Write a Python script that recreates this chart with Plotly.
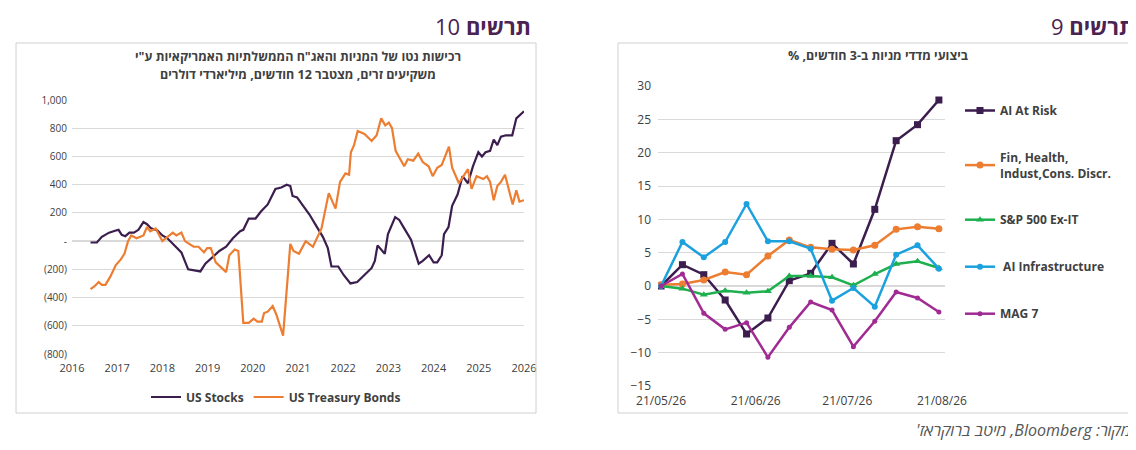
import pandas as pd
from plotly import graph_objs
 
W, H = 1136, 450

def px(x):
    return x / W

def py(y):
    return 1 - y / H

def rtl(s):
    # keep Hebrew lines in right-to-left order inside the svg text
    return "\u202b" + s + "\u202c"

# chart 10: net purchases by foreign investors, 12m rolling, $bn
stocks = [
    (2016.41, -10), (2016.55, -10), (2016.66, 30), (2016.82, 60), (2016.97, 75), (2017.03, 80),
    (2017.10, 45), (2017.18, 35), (2017.27, 60), (2017.37, 60), (2017.47, 80), (2017.58, 135),
    (2017.66, 120), (2017.75, 90), (2017.89, 75), (2018.00, 40), (2018.11, 20), (2018.27, -30),
    (2018.42, -80), (2018.57, -200), (2018.73, -210), (2018.84, -215), (2018.95, -160),
    (2019.11, -110), (2019.26, -70), (2019.41, -40), (2019.56, 20), (2019.72, 70), (2019.79, 80),
    (2019.91, 160), (2020.06, 160), (2020.18, 210), (2020.33, 260), (2020.50, 370), (2020.63, 380),
    (2020.75, 400), (2020.83, 390), (2020.88, 320), (2020.98, 310), (2021.09, 260), (2021.25, 190),
    (2021.40, 110), (2021.55, 30), (2021.66, -50), (2021.74, -180), (2021.89, -180), (2022.01, -240),
    (2022.16, -300), (2022.31, -290), (2022.47, -240), (2022.63, -190), (2022.70, -140),
    (2022.76, -30), (2022.92, -90), (2022.99, 50), (2023.15, 170), (2023.24, 150), (2023.35, 90),
    (2023.50, 10), (2023.67, -160), (2023.76, -140), (2023.90, -100), (2024.00, -150),
    (2024.08, -150), (2024.18, -100), (2024.23, 50), (2024.33, 100), (2024.41, 250), (2024.53, 330),
    (2024.64, 460), (2024.76, 410), (2024.87, 530), (2024.99, 630), (2025.07, 600), (2025.15, 630),
    (2025.25, 640), (2025.33, 720), (2025.41, 680), (2025.49, 740), (2025.60, 750), (2025.74, 750),
    (2025.83, 870), (2026.00, 920),
]
bonds = [
    (2016.41, -340), (2016.50, -320), (2016.59, -290), (2016.66, -310), (2016.74, -310),
    (2016.85, -250), (2016.97, -170), (2017.08, -130), (2017.16, -90), (2017.24, 0), (2017.31, 40),
    (2017.43, 20), (2017.58, 40), (2017.66, 100), (2017.73, 70), (2017.85, 90), (2018.00, 0),
    (2018.11, 30), (2018.23, 60), (2018.31, 40), (2018.42, 60), (2018.50, 0), (2018.69, -40),
    (2018.80, -40), (2018.92, -80), (2018.99, -50), (2019.07, -50), (2019.18, -150),
    (2019.30, -190), (2019.41, -220), (2019.48, -100), (2019.60, -60), (2019.68, -70),
    (2019.79, -580), (2019.91, -580), (2020.02, -550), (2020.10, -570), (2020.20, -570),
    (2020.25, -510), (2020.33, -500), (2020.44, -460), (2020.52, -520), (2020.67, -670),
    (2020.83, -20), (2020.90, -70), (2021.02, -90), (2021.17, 0), (2021.33, -40), (2021.52, 90),
    (2021.68, 340), (2021.83, 230), (2021.93, 420), (2022.05, 480), (2022.13, 470), (2022.17, 630),
    (2022.24, 680), (2022.32, 780), (2022.47, 760), (2022.63, 710), (2022.74, 750), (2022.84, 870),
    (2022.93, 820), (2023.01, 840), (2023.08, 800), (2023.16, 640), (2023.24, 590), (2023.35, 530),
    (2023.43, 580), (2023.55, 570), (2023.66, 620), (2023.76, 560), (2023.89, 530), (2023.98, 460),
    (2024.08, 520), (2024.18, 540), (2024.34, 670), (2024.41, 520), (2024.56, 410), (2024.76, 510),
    (2024.84, 370), (2024.95, 460), (2025.10, 440), (2025.18, 460), (2025.25, 420), (2025.33, 290),
    (2025.41, 390), (2025.49, 420), (2025.58, 470), (2025.67, 360), (2025.75, 260), (2025.83, 360),
    (2025.90, 280), (2026.00, 290),
]

# chart 9: 3 month index performance, %
dates = pd.date_range("2026-05-21", periods=14, freq="7D")
perf = {
    "AI At Risk": ([0, 3.2, 1.7, -2.1, -7.2, -4.8, 0.8, 1.9, 6.4, 3.3, 11.5, 21.8, 24.2, 27.9],
                   "#3b1d4e", "square", 7),
    "Fin, Health,<br>Indust,Cons. Discr.": ([0.2, 0.3, 0.9, 2.1, 1.7, 4.5, 6.9, 5.8, 5.5, 5.4, 6.1, 8.5, 8.9, 8.6],
                   "#ed7d31", "circle", 7),
    "S&P 500 Ex-IT": ([0, -0.4, -1.3, -0.7, -1.0, -0.8, 1.5, 1.5, 1.3, 0.1, 1.8, 3.3, 3.7, 2.7],
                   "#1eb04f", "triangle-up", 7),
    " AI Infrastructure": ([0, 6.6, 4.3, 6.6, 12.3, 6.7, 6.7, 5.6, -2.2, -0.3, -3.1, 4.7, 6.1, 2.6],
                   "#1ba1de", "circle", 6),
    "MAG 7": ([0, 1.8, -4.1, -6.5, -5.5, -10.7, -6.2, -2.4, -3.6, -9.1, -5.3, -0.9, -1.8, -3.9],
                   "#a02b93", "circle", 5),
}

fig = graph_objs.Figure()

fig.add_trace(graph_objs.Scatter(x=[p[0] for p in stocks], y=[p[1] for p in stocks],
                                 name="US Stocks", mode="lines",
                                 line=dict(color="#3b1d4e", width=2.2), xaxis="x", yaxis="y"))
fig.add_trace(graph_objs.Scatter(x=[p[0] for p in bonds], y=[p[1] for p in bonds],
                                 name="US Treasury Bonds", mode="lines",
                                 line=dict(color="#ed7d31", width=2.2), xaxis="x", yaxis="y"))

for name, (vals, color, symbol, size) in perf.items():
    fig.add_trace(graph_objs.Scatter(x=dates, y=vals, name=name, mode="lines+markers",
                                     line=dict(color=color, width=2.5),
                                     marker=dict(symbol=symbol, size=size, color=color),
                                     xaxis="x2", yaxis="y2", legend="legend2", legendgroup=name))

grid = "#d9d9d9"
axis_font = dict(family="Open Sans", size=11, color="#404040")
left_ticks = [1000, 800, 600, 400, 200, 0, -200, -400, -600, -800]
left_text = ["1,000" if v == 1000 else "-" if v == 0 else f"({-v})" if v < 0 else str(v) for v in left_ticks]

fig.update_layout(
    width=W, height=H, margin=dict(l=0, r=0, t=0, b=0),
    paper_bgcolor="white", plot_bgcolor="white",
    font=dict(family="Open Sans", color="#404040"),
    xaxis=dict(domain=[px(64), px(516)], range=[2016, 2026], tickvals=list(range(2016, 2027)),
               showgrid=False, zeroline=False, tickfont=axis_font, anchor="y", automargin=False,
               ticklabelstandoff=6),
    yaxis=dict(domain=[py(346), py(92)], range=[-800, 1000], tickvals=left_ticks, ticktext=left_text,
               gridcolor=grid, zeroline=True, zerolinecolor=grid, zerolinewidth=1.5,
               tickfont=dict(family="Open Sans", size=10, color="#404040"), anchor="x",
               automargin=False, ticklabelstandoff=4),
    xaxis2=dict(domain=[px(650), px(937)], range=["2026-05-20", "2026-08-22"],
                tickvals=["2026-05-21", "2026-06-21", "2026-07-21", "2026-08-21"],
                ticktext=["21/05/26", "21/06/26", "21/07/26", "21/08/26"],
                showgrid=False, zeroline=False, tickfont=dict(family="Open Sans", size=12, color="#404040"),
                anchor="y2", automargin=False, ticklabelstandoff=6),
    yaxis2=dict(domain=[py(378), py(78)], range=[-15, 30], dtick=5, gridcolor=grid,
                zeroline=True, zerolinecolor=grid, zerolinewidth=1.5,
                tickfont=dict(family="Open Sans", size=12, color="#404040"), anchor="x2",
                automargin=False, ticklabelstandoff=6),
    legend=dict(orientation="h", x=px(268), y=py(389), xanchor="center", yanchor="middle",
                font=dict(family="Open Sans", size=12, color="#404040", weight="bold")),
    legend2=dict(x=px(952), y=py(88), xanchor="left", yanchor="top", tracegroupgap=28,
                 traceorder="grouped",
                 font=dict(family="Open Sans", size=12, color="#404040", weight="bold")),
    showlegend=True,
)

# panel frames
for x0, x1 in [(8, 528), (610, 1130)]:
    fig.add_shape(type="rect", xref="paper", yref="paper", x0=px(x0), x1=px(x1), y0=py(405), y1=py(35),
                  line=dict(color="#d0d0d0", width=1))

annots = [
    (525, 18, rtl("<b>תרשים</b> 10"), 22, "right", "#4a2352"),
    (1128, 18, rtl("<b>תרשים</b> 9"), 22, "right", "#4a2352"),
    (290, 48, rtl("<b>רכישות נטו של המניות והאג\"ח הממשלתיות האמריקאיות ע\"י</b>"), 12.5, "center", "#404040"),
    (290, 66, rtl("<b>משקיעים זרים, מצטבר 12 חודשים, מיליארדי דולרים</b>"), 12.5, "center", "#404040"),
    (870, 47, rtl("<b>ביצועי מדדי מניות ב-3 חודשים, %</b>"), 12.5, "center", "#404040"),
    (1125, 422, rtl("<i>מקור: Bloomberg, מיטב ברוקראז'</i>"), 16, "right", "#555555"),
]
for x, y, text, size, anchor, color in annots:
    fig.add_annotation(xref="paper", yref="paper", x=px(x), y=py(y), text=text, showarrow=False,
                       xanchor=anchor, yanchor="middle", font=dict(family="Open Sans", size=size, color=color))

fig.write_html("out.html")
